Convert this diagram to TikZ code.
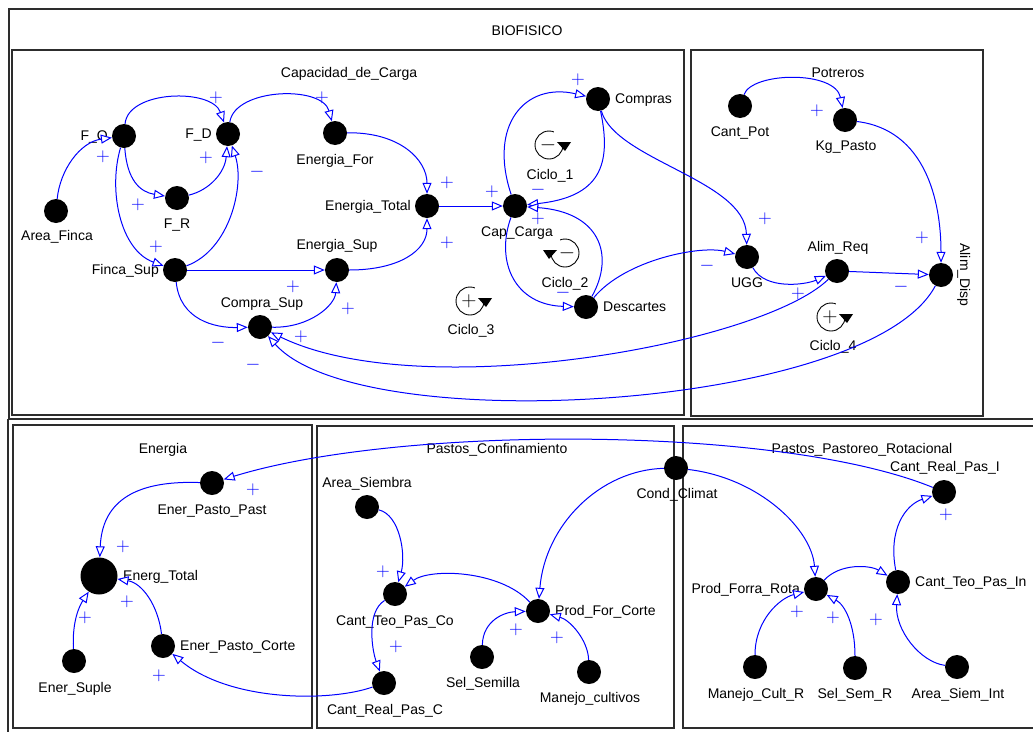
\RequirePackage{fix-cm}
\documentclass[tikz,border=0pt]{standalone}
\usepackage{fontspec}
\setmainfont{Liberation Sans}
\usetikzlibrary{arrows.meta}
\definecolor{linkblue}{RGB}{0,0,255}
\definecolor{framegray}{RGB}{45,45,45}
\begin{document}
\begin{tikzpicture}[x=1pt,y=-1pt,
  var/.style={circle,fill=black,minimum size=24pt,inner sep=0pt},
  bigvar/.style={circle,fill=black,minimum size=37pt,inner sep=0pt},
  lbl/.style={font=\fontsize{14}{16}\selectfont,inner sep=0pt,text height=10pt,text depth=2pt},
  link/.style={draw=linkblue,line width=1pt,-{Triangle[length=11pt,width=9pt,fill=white]}},
  sgn/.style={text=linkblue,font=\fontsize{19}{19}\selectfont,inner sep=0pt},
  loopsgn/.style={text=black,font=\fontsize{21}{21}\selectfont,inner sep=0pt},
  frame/.style={draw=framegray,line width=1.3pt},
  cwloop/.pic={
    \draw[line width=0.9pt] (0,0) circle[radius=14pt];
    \fill[white] (5,-17) rectangle (21,-3);
    \fill (8,-3) -- (22,-3) -- (16,6) -- cycle;
  },
  ccwloop/.pic={
    \draw[line width=0.9pt] (0,0) circle[radius=14pt];
    \fill[white] (-21,-17) rectangle (-5,-3);
    \fill (-8,-3) -- (-22,-3) -- (-16,6) -- cycle;
  }
]
\clip (0,0) rectangle (1033,731);
\fill[white] (0,0) rectangle (1033,731);

% ---------- frames ----------
\draw[frame] (9,9) rectangle (1045,419);
\draw[frame] (8,419) -- (8,735);
\draw[frame] (12,50) rectangle (684,415);
\draw[frame] (691,50) rectangle (983,416);
\draw[frame] (13,425) rectangle (312,728);
\draw[frame] (317,426) rectangle (674,728);
\draw[frame] (683,426) rectangle (1045,728);

% ---------- titles ----------
\node[lbl] (tBio) at (527,31) {BIOFISICO};
\node[lbl] (tCap) at (349,73) {Capacidad\_de\_Carga};
\node[lbl] (tPot) at (838,73) {Potreros};
\node[lbl] (tEne) at (163,449) {Energia};
\node[lbl] (tPCo) at (497,449) {Pastos\_Confinamiento};
\node[lbl] (tPPR) at (862,449) {Pastos\_Pastoreo\_Rotacional};

% ---------- variables (top) ----------
\node[var] (FO) at (124,136) {};
\node[var] (FD) at (228,134) {};
\node[var] (EF) at (335,133) {};
\node[var] (FR) at (177,198) {};
\node[var] (AF) at (56,211) {};
\node[var] (FS) at (175,270) {};
\node[var] (ES) at (337,270) {};
\node[var] (CS) at (260,327) {};
\node[var] (ET) at (427,206) {};
\node[var] (CC) at (515,206) {};
\node[var] (CO) at (598,99) {};
\node[var] (DE) at (586,307) {};
\node[var] (UG) at (747,257) {};
\node[var] (AR) at (837,271) {};
\node[var] (AD) at (941,275) {};
\node[var] (CP) at (740,106) {};
\node[var] (KP) at (845,120) {};

% ---------- variables (bottom) ----------
\node[var] (EPP) at (212,483) {};
\node[bigvar] (ENT) at (99,576) {};
\node[var] (ESU) at (74,661) {};
\node[var] (EPC) at (163,646) {};
\node[var] (ASB) at (367,507) {};
\node[var] (CTC) at (395,594) {};
\node[var] (PFC) at (538,611) {};
\node[var] (SSM) at (482,657) {};
\node[var] (MCU) at (589,672) {};
\node[var] (CRC) at (384,683) {};
\node[var] (CCL) at (676,468) {};
\node[var] (CRI) at (944,492) {};
\node[var] (PFR) at (816,589) {};
\node[var] (CTI) at (898,582) {};
\node[var] (MCR) at (755,667) {};
\node[var] (SSR) at (855,668) {};
\node[var] (ASI) at (957,667) {};

% ---------- labels (top) ----------
\node[lbl,anchor=east] (tFO) at (108,136) {F\_O};
\node[lbl,anchor=east] (tFD) at (212,134) {F\_D};
\node[lbl] (tEF) at (335,160) {Energia\_For};
\node[lbl] (tFR) at (177,224) {F\_R};
\node[lbl] (tAF) at (57,236) {Area\_Finca};
\node[lbl,anchor=east] (tFS) at (159,270) {Finca\_Sup};
\node[lbl] (tES) at (337,245) {Energia\_Sup};
\node[lbl] (tCS) at (262,303) {Compra\_Sup};
\node[lbl,anchor=east] (tET) at (411,206) {Energia\_Total};
\node[lbl] (tCC) at (517,232) {Cap\_Carga};
\node[lbl,anchor=west] (tCO) at (615,99) {Compras};
\node[lbl,anchor=west] (tDE) at (603,307) {Descartes};
\node[lbl] (tL1) at (550,175) {Ciclo\_1};
\node[lbl] (tL2) at (565,283) {Ciclo\_2};
\node[lbl] (tL3) at (471,330) {Ciclo\_3};
\node[lbl] (tL4) at (833,346) {Ciclo\_4};
\node[lbl] (tUG) at (747,283) {UGG};
\node[lbl] (tAR) at (838,247) {Alim\_Req};
\node[lbl,rotate=-90] (tAD) at (964,275) {Alim\_Disp};
\node[lbl] (tCP) at (740,132) {Cant\_Pot};
\node[lbl] (tKP) at (846,146) {Kg\_Pasto};

% ---------- labels (bottom) ----------
\node[lbl] (tEPP) at (212,510) {Ener\_Pasto\_Past};
\node[lbl,anchor=west] (tENT) at (123,576) {Energ\_Total};
\node[lbl] (tESU) at (75,688) {Ener\_Suple};
\node[lbl,anchor=west] (tEPC) at (180,646) {Ener\_Pasto\_Corte};
\node[lbl] (tASB) at (367,483) {Area\_Siembra};
\node[lbl] (tCTC) at (395,621) {Cant\_Teo\_Pas\_Co};
\node[lbl,anchor=west] (tPFC) at (555,611) {Prod\_For\_Corte};
\node[lbl] (tSSM) at (483,683) {Sel\_Semilla};
\node[lbl] (tMCU) at (590,698) {Manejo\_cultivos};
\node[lbl] (tCRC) at (385,710) {Cant\_Real\_Pas\_C};
\node[lbl] (tCCL) at (677,494) {Cond\_Climat};
\node[lbl] (tCRI) at (945,467) {Cant\_Real\_Pas\_I};
\node[lbl,anchor=east] (tPFR) at (800,589) {Prod\_Forra\_Rota};
\node[lbl,anchor=west] (tCTI) at (915,582) {Cant\_Teo\_Pas\_In};
\node[lbl] (tMCR) at (756,694) {Manejo\_Cult\_R};
\node[lbl] (tSSR) at (855,694) {Sel\_Sem\_R};
\node[lbl] (tASI) at (958,694) {Area\_Siem\_Int};

% ---------- links (top) ----------
\draw[link] (FO) .. controls (128,90) and (212,88) .. (FD);
\draw[link] (FD) .. controls (235,88) and (322,85) .. (EF);
\draw[link] (AF) .. controls (60,170) and (80,142) .. (FO);
\draw[link] (FO) .. controls (127,180) and (140,192) .. (FR);
\draw[link] (FR) .. controls (210,190) and (225,172) .. (FD);
\draw[link] (FO) .. controls (108,190) and (120,250) .. (FS);
\draw[link] (FS) .. controls (230,250) and (245,185) .. (FD);
\draw[link] (EF) .. controls (400,132) and (427,160) .. (ET);
\draw[link] (ES) .. controls (400,270) and (427,250) .. (ET);
\draw[link] (ET) -- (CC);
\draw[link] (FS) -- (ES);
\draw[link] (FS) .. controls (180,320) and (215,328) .. (CS);
\draw[link] (CS) .. controls (310,328) and (335,305) .. (ES);
\draw[link] (AR) .. controls (760,345) and (420,405) .. (CS);
\draw[link] (AD) .. controls (870,410) and (360,440) .. (CS);
\draw[link] (CC) .. controls (488,125) and (525,82) .. (CO);
\draw[link] (CO) .. controls (612,165) and (600,197) .. (CC);
\draw[link] (CC) .. controls (495,262) and (515,305) .. (DE);
\draw[link] (DE) .. controls (615,255) and (600,212) .. (CC);
\draw[link] (CO) .. controls (615,160) and (745,180) .. (UG);
\draw[link] (DE) .. controls (625,260) and (700,245) .. (UG);
\draw[link] (UG) .. controls (765,290) and (805,285) .. (AR);
\draw[link] (AR) -- (AD);
\draw[link] (KP) .. controls (925,130) and (941,200) .. (AD);
\draw[link] (CP) .. controls (752,72) and (835,70) .. (KP);

% ---------- links (bottom) ----------
\draw[link] (CRI) .. controls (780,425) and (400,425) .. (EPP);
\draw[link] (CCL) .. controls (600,470) and (545,525) .. (PFC);
\draw[link] (CCL) .. controls (760,478) and (812,530) .. (PFR);
\draw[link] (ASB) .. controls (400,515) and (406,555) .. (CTC);
\draw[link] (PFC) .. controls (500,570) and (430,568) .. (CTC);
\draw[link] (CTC) .. controls (366,612) and (372,650) .. (CRC);
\draw[link] (SSM) .. controls (483,620) and (505,612) .. (PFC);
\draw[link] (MCU) .. controls (588,640) and (570,620) .. (PFC);
\draw[link] (CRC) .. controls (330,702) and (230,702) .. (EPC);
\draw[link] (EPP) .. controls (130,480) and (102,505) .. (ENT);
\draw[link] (ESU) .. controls (72,620) and (80,605) .. (ENT);
\draw[link] (EPC) .. controls (158,605) and (142,583) .. (ENT);
\draw[link] (PFR) .. controls (840,563) and (870,565) .. (CTI);
\draw[link] (CTI) .. controls (888,530) and (905,505) .. (CRI);
\draw[link] (MCR) .. controls (755,620) and (780,598) .. (PFR);
\draw[link] (SSR) .. controls (855,625) and (845,605) .. (PFR);
\draw[link] (ASI) .. controls (920,662) and (895,630) .. (CTI);

% ---------- polarity signs (top) ----------
\node[sgn] (s1) at (216,98) {$+$};
\node[sgn] (s2) at (322,98) {$+$};
\node[sgn] (s3) at (103,157) {$+$};
\node[sgn] (s4) at (138,205) {$+$};
\node[sgn] (s5) at (206,158) {$+$};
\node[sgn] (s6) at (156,247) {$+$};
\node[sgn] (s7) at (257,172) {$-$};
\node[sgn] (s8) at (447,183) {$+$};
\node[sgn] (s9) at (447,243) {$+$};
\node[sgn] (s10) at (492,192) {$+$};
\node[sgn] (s11) at (293,287) {$+$};
\node[sgn] (s12) at (218,343) {$-$};
\node[sgn] (s13) at (348,309) {$+$};
\node[sgn] (s14) at (301,337) {$+$};
\node[sgn] (s15) at (253,365) {$-$};
\node[sgn] (s16) at (578,80) {$+$};
\node[sgn] (s17) at (538,190) {$-$};
\node[sgn] (s18) at (563,293) {$-$};
\node[sgn] (s19) at (538,219) {$+$};
\node[sgn] (s20) at (765,219) {$+$};
\node[sgn] (s21) at (707,266) {$-$};
\node[sgn] (s22) at (798,294) {$+$};
\node[sgn] (s23) at (901,287) {$-$};
\node[sgn] (s24) at (922,238) {$+$};
\node[sgn] (s25) at (817,111) {$+$};

% ---------- polarity signs (bottom) ----------
\node[sgn] (b1) at (253,490) {$+$};
\node[sgn] (b2) at (123,547) {$+$};
\node[sgn] (b3) at (85,618) {$+$};
\node[sgn] (b4) at (127,602) {$+$};
\node[sgn] (b5) at (159,676) {$+$};
\node[sgn] (b6) at (383,572) {$+$};
\node[sgn] (b7) at (396,647) {$+$};
\node[sgn] (b8) at (516,630) {$+$};
\node[sgn] (b9) at (557,638) {$+$};
\node[sgn] (b10) at (946,515) {$+$};
\node[sgn] (b11) at (797,612) {$+$};
\node[sgn] (b12) at (833,618) {$+$};
\node[sgn] (b13) at (876,620) {$+$};

% ---------- loop markers ----------
\pic at (549,145) {cwloop};
\node[loopsgn] (l1) at (548,145) {$-$};
\pic at (565,253) {ccwloop};
\node[loopsgn] (l2) at (567,253) {$-$};
\pic at (470,301) {cwloop};
\node[loopsgn] (l3) at (469,301) {$+$};
\pic at (831,317) {cwloop};
\node[loopsgn] (l4) at (830,317) {$+$};
\end{tikzpicture}
\end{document}
